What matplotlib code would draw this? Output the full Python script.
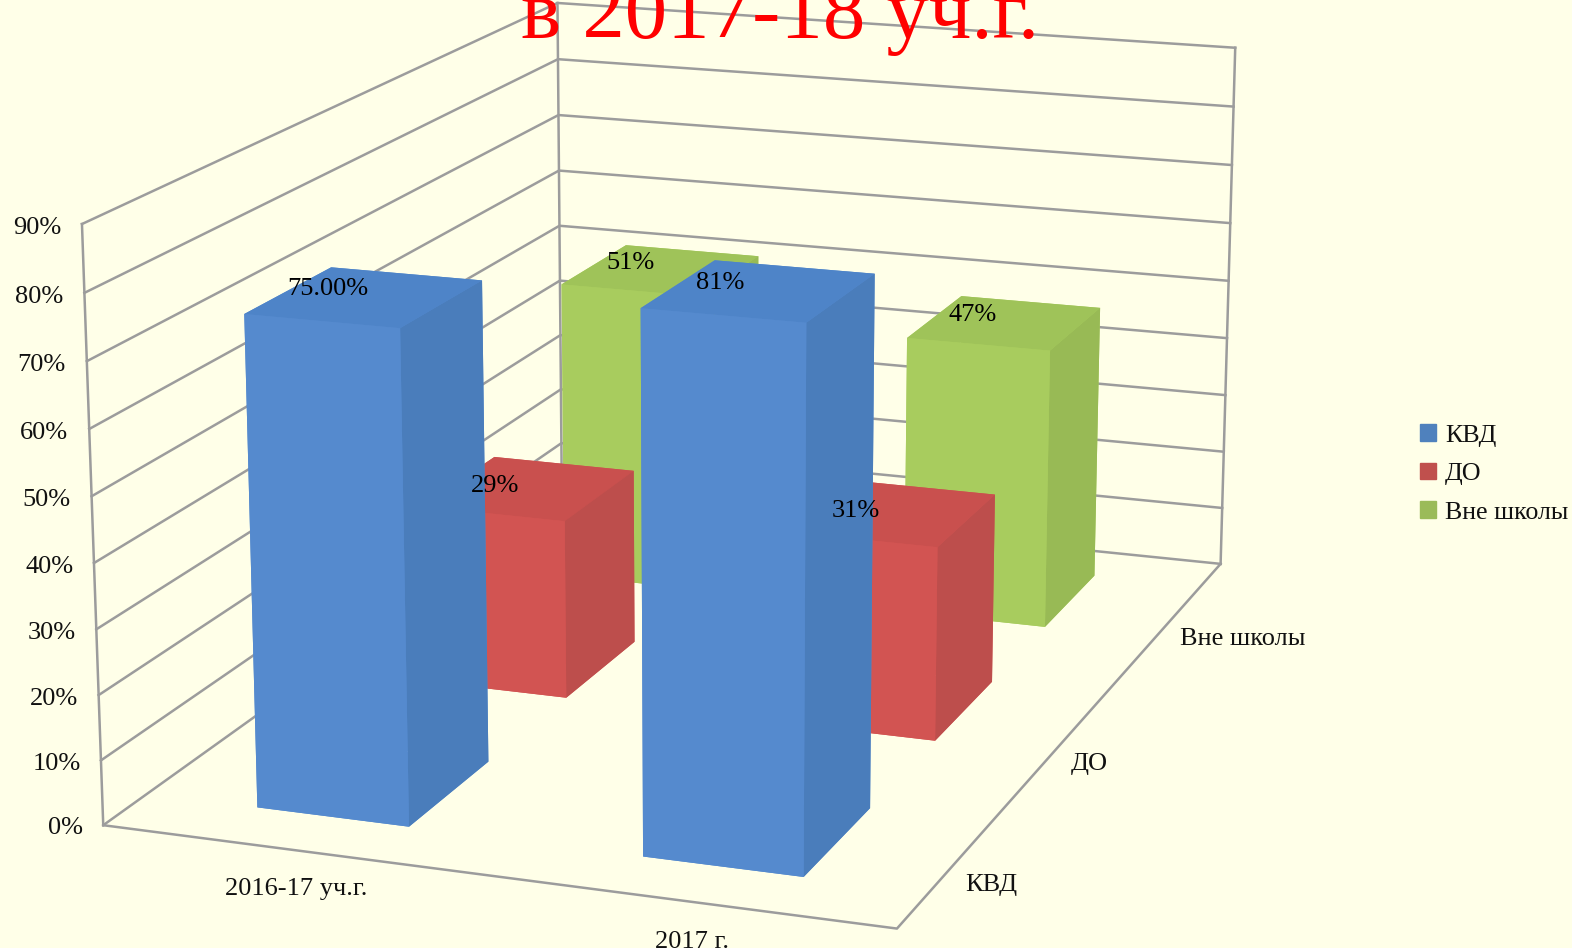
import numpy as np
import matplotlib
matplotlib.use('Agg')
import matplotlib.pyplot as plt
from matplotlib.patches import Patch

plt.rcParams['font.family'] = ['Liberation Serif', 'DejaVu Sans']

years = ['2016-17 уч.г.', '2017 г.']
series = ['КВД', 'ДО', 'Вне школы']
kvd = [0.75, 0.81]
do = [0.29, 0.31]
vne = [0.51, 0.47]
kvd_labels = ['75.00%', '81%']
do_labels = ['29%', '31%']
vne_labels = ['51%', '47%']
z_ticks = [0, 0.1, 0.2, 0.3, 0.4, 0.5, 0.6, 0.7, 0.8, 0.9]
z_labels = ['0%', '10%', '20%', '30%', '40%', '50%', '60%', '70%', '80%', '90%']

BG = '#FFFFE8'
GRID = '#9C9C9C'
TXT = '#111111'
# colours for bottom, top, front, back, left, right
blue = ['#558ACE', '#4E84C8', '#558ACE', '#558ACE', '#558ACE', '#4A7DBB']
red = ['#D25452', '#C9504E', '#D25452', '#D25452', '#D25452', '#BD4E4C']
green = ['#A8CC5E', '#9FC359', '#A8CC5E', '#A8CC5E', '#A8CC5E', '#98BA55']

fig = plt.figure(figsize=(15.72, 9.48), dpi=100, facecolor=BG)
# camera was fitted to the frame corners, the rect follows from that fit
k, u, v = 7939.107, 706.965, 410.568
ax = fig.add_axes([(u - .095*k)/1572, (948 - v - .095*k)/948, .185*k/1572, .185*k/948], projection='3d')
ax.patch.set_alpha(0)
ax.computed_zorder = False
ax.set_xlim(0, 2)
ax.set_ylim(0, 3)
ax.set_zlim(0, .9)
ax.view_init(elev=15.2487, azim=-70.0607, roll=0.0406)
ax.set_proj_type('persp', focal_length=0.6122)
ax.set_box_aspect((1, 1.4966, 0.7404))
ax.set_axis_off()

# walls
line = dict(color=GRID, lw=1.8, zorder=1)
for z in z_ticks:
    ax.plot([0, 0, 2], [0, 3, 3], [z, z, z], **line)
ax.plot([0, 2, 2], [0, 0, 3], [0, 0, 0], **line)
ax.plot([0, 0], [0, 0], [0, .9], **line)
ax.plot([0, 0], [3, 3], [0, .9], **line)
ax.plot([2, 2], [3, 3], [0, .9], **line)

# bars, back row first
rows = [(2.27, vne, green, vne_labels, -.095, .007), (1.27, do, red, do_labels, -.1, -.004), (.24, kvd, blue, kvd_labels, -.1, .005)]
order = 2
for y0, vals, cols, labs, off, dz in rows:
    for i, h in enumerate(vals):
        x0 = i + .295
        ax.bar3d([x0], [y0], [0], .4, .5, h, color=cols, shade=False, edgecolor='none', linewidth=0, zorder=order)
        order += 1
        ax.text(x0 + .2 + off, y0 + .26, h + dz, labs[i], ha='center', va='center', fontsize=19, color='black', zorder=50)

for z, lab in zip(z_ticks, z_labels):
    ax.text(-.055, 0, z - .009, lab, ha='right', va='center', fontsize=19, color=TXT, zorder=40)
for i, lab in enumerate(years):
    ax.text(i + .505, 0, -.06, lab, ha='center', va='center', fontsize=19, color=TXT, zorder=40)
for lab, y in zip(series, [.37, 1.27, 2.35]):
    ax.text(2.05, y, -.012, lab, ha='left', va='center', fontsize=19, color=TXT, zorder=40)

handles = [Patch(color=c) for c in ('#4F81BD', '#C0504D', '#9BBB59')]
fig.legend(handles, series, loc='upper left', bbox_to_anchor=(1420/1572, 1 - 424/948), frameon=False, fontsize=18.7,
           handlelength=.62, handleheight=.62, handletextpad=.35, labelspacing=.62, borderpad=0, borderaxespad=0, labelcolor=TXT)

fig.text(780/1572, 1 - 38/948, 'в 2017-18 уч.г.', color='#FF0000', fontsize=61, ha='center', va='baseline')

fig.savefig('out.png', dpi=100, facecolor=BG)
